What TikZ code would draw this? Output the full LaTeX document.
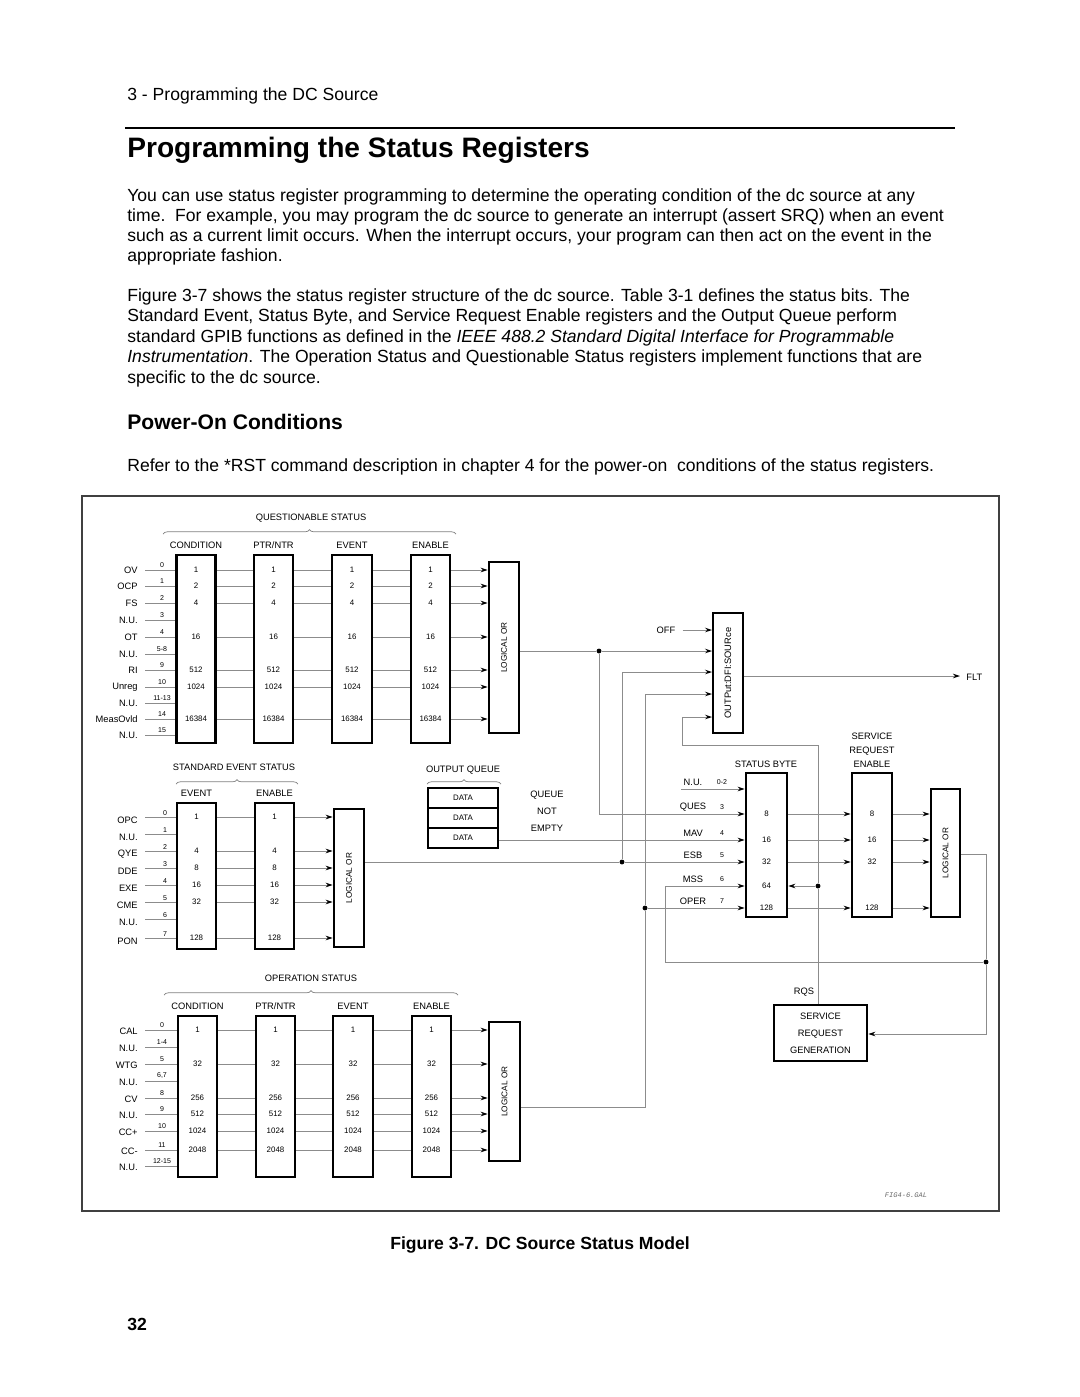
\documentclass[tikz,border=0pt]{standalone}
\usepackage{fontspec}
\setmainfont{Liberation Sans}
\newfontfamily\galfont{Liberation Mono}
\usetikzlibrary{arrows.meta,decorations.pathreplacing}

\begin{document}
\begin{tikzpicture}[x=0.2mm,y=-0.2mm]

\tikzset{
  regbox/.style 2 args={draw, line width=1.5pt, minimum width=#1*0.2mm,
    minimum height=#2*0.2mm, inner sep=0pt},
  wire/.style={draw=black!45, line width=0.55pt},
  arr/.style={wire, -{Stealth[length=4pt,width=2.6pt,inset=1.3pt,black]}},
  jdot/.style={circle, fill=black, inner sep=0pt, minimum size=2.8pt},
  lbl/.style={font=\fontsize{5.3}{6.3}\selectfont, inner sep=0pt},
  val/.style={font=\fontsize{4.5}{5}\selectfont, inner sep=0pt},
  bitno/.style={font=\fontsize{4}{5}\selectfont, inner sep=0pt, anchor=south},
  orlbl/.style={font=\fontsize{4.7}{5}\selectfont, rotate=90},
  bodytxt/.style={font=\fontsize{10}{12}\selectfont, anchor=base west, inner sep=0pt},
  grp/.style={draw=black!50, line width=0.4pt, decorate,
    decoration={brace, amplitude=2.5pt}},
}

\useasboundingbox (0,0) rectangle (1080,1397);

% Page text
\node[bodytxt] (hdr) at (127,100) {3 - Programming the DC Source};
\draw[line width=0.8pt] (125,128) -- (955,128);
\node[bodytxt, font=\fontsize{16}{19}\selectfont\bfseries] (ttl) at (127,157)
  {Programming the Status Registers};

\node[bodytxt] (pa1) at (127,201) {You can use status register programming to determine the operating condition of the dc source at any};
\node[bodytxt] (pa2) at (127,221) {time.\ \ For example, you may program the dc source to generate an interrupt (assert SRQ) when an event};
\node[bodytxt] (pa3) at (127,241) {such as a current limit occurs. When the interrupt occurs, your program can then act on the event in the};
\node[bodytxt] (pa4) at (127,261) {appropriate fashion.};

\node[bodytxt] (pb1) at (127,301) {Figure 3-7 shows the status register structure of the dc source. Table 3-1 defines the status bits. The};
\node[bodytxt] (pb2) at (127,321) {Standard Event, Status Byte, and Service Request Enable registers and the Output Queue perform};
\node[bodytxt] (pb3) at (127,342) {standard GPIB functions as defined in the \textit{IEEE 488.2 Standard Digital Interface for Programmable}};
\node[bodytxt] (pb4) at (127,362) {\textit{Instrumentation}. The Operation Status and Questionable Status registers implement functions that are};
\node[bodytxt] (pb5) at (127,383) {specific to the dc source.};

\node[bodytxt, font=\fontsize{12}{14}\selectfont\bfseries] (pwr) at (127,429) {Power-On Conditions};
\node[bodytxt] (pc1) at (127,471) {Refer to the *RST command description in chapter 4 for the power-on\ \ conditions of the status registers.};

% Figure frame
\draw[black!75, line width=1.1pt] (82,496) rectangle (999,1211);

% Questionable status
\node[lbl] (qtitle) at (311,518) {QUESTIONABLE STATUS};
\draw[grp] (163,534) -- (456,534);
\node[lbl] at (196,545) {CONDITION};
\node[lbl] at (273.5,545) {PTR/NTR};
\node[lbl] at (352,545) {EVENT};
\node[lbl] at (430.5,545) {ENABLE};
\node[regbox={39}{188}] (qcond) at (196,649) {};
\node[regbox={39}{188}] (qptr) at (273.5,649) {};
\node[regbox={40}{188}] (qevt) at (352,649) {};
\node[regbox={39}{188}] (qena) at (430.5,649) {};
\node[regbox={30}{171}] (qor) at (504,647.5) {};
\node[orlbl] at (qor) {LOGICAL OR};

\foreach \i/\nm/\bt/\yy in {0/OV/0/570, 1/OCP/1/586, 2/FS/2/603, 3/N.U./3/620,
    4/OT/4/637, 5/N.U./5-8/654, 6/RI/9/670, 7/Unreg/10/687, 8/N.U./11-13/703,
    9/MeasOvld/14/719, 10/N.U./15/735} {
  \coordinate (qr\i) at (145,\yy);
  \node[lbl, anchor=east] (qn\i) at (138,\yy) {\nm};
  \node[bitno] at (162,\yy-2) {\bt};
  \draw[wire] (qr\i) -- (qcond.west |- qr\i);
}
\foreach \i/\v in {0/1, 1/2, 2/4, 4/16, 6/512, 7/1024, 9/16384} {
  \foreach \b in {qcond,qptr,qevt,qena}
    \node[val] at (\b |- qr\i) {\v};
  \draw[wire] (qcond.east |- qr\i) -- (qptr.west |- qr\i)
              (qptr.east |- qr\i) -- (qevt.west |- qr\i)
              (qevt.east |- qr\i) -- (qena.west |- qr\i);
  \draw[arr] (qena.east |- qr\i) -- (qor.west |- qr\i);
}

% Standard event status
\node[lbl] (stitle) at (234,767) {STANDARD EVENT STATUS};
\draw[grp] (176,784) -- (298,784);
\node[lbl] at (196.5,793) {EVENT};
\node[lbl] at (274.5,793) {ENABLE};
\node[regbox={39}{146}] (sevt) at (196.5,876) {};
\node[regbox={39}{146}] (sena) at (274.5,876) {};
\node[regbox={30}{138}] (sor) at (349,878) {};
\node[orlbl] at (sor) {LOGICAL OR};

\foreach \i/\nm/\yy in {0/OPC/817, 1/N.U./834, 2/QYE/851, 3/DDE/868, 4/EXE/885,
    5/CME/902, 6/N.U./919, 7/PON/938} {
  \coordinate (sr\i) at (145,\yy);
  \node[lbl, anchor=east] (sn\i) at (138,\yy+3) {\nm};
  \node[bitno] at (165,\yy-1.5) {\i};
  \draw[wire] (sr\i) -- (sevt.west |- sr\i);
}
\foreach \i/\v in {0/1, 2/4, 3/8, 4/16, 5/32, 7/128} {
  \node[val] at (sevt |- sr\i) {\v};
  \node[val] at (sena |- sr\i) {\v};
  \draw[wire] (sevt.east |- sr\i) -- (sena.west |- sr\i);
  \draw[arr] (sena.east |- sr\i) -- (sor.west |- sr\i);
}

% Operation status
\node[lbl] (otitle) at (311,978) {OPERATION STATUS};
\draw[grp] (164,995) -- (458,995);
\node[lbl] at (197.5,1006) {CONDITION};
\node[lbl] at (275.5,1006) {PTR/NTR};
\node[lbl] at (353,1006) {EVENT};
\node[lbl] at (431.5,1006) {ENABLE};
\node[regbox={39}{161}] (ocond) at (197.5,1096.5) {};
\node[regbox={39}{161}] (optr) at (275.5,1096.5) {};
\node[regbox={40}{161}] (oevt) at (353,1096.5) {};
\node[regbox={39}{161}] (oena) at (431.5,1096.5) {};
\node[regbox={31}{139}] (oor) at (504.5,1091.5) {};
\node[orlbl] at (oor) {LOGICAL OR};

\foreach \i/\nm/\bt/\yy in {0/CAL/0/1030, 1/N.U./1-4/1047, 2/WTG/5/1064,
    3/N.U./{6,7}/1081, 4/CV/8/1098, 5/N.U./9/1114, 6/CC+/10/1131, 7/CC-/11/1150,
    8/N.U./12-15/1166} {
  \coordinate (or\i) at (145,\yy);
  \node[lbl, anchor=east] (on\i) at (138,\yy+1) {\nm};
  \node[bitno] at (162,\yy-2) {\bt};
  \draw[wire] (or\i) -- (ocond.west |- or\i);
}
\foreach \i/\v in {0/1, 2/32, 4/256, 5/512, 6/1024, 7/2048} {
  \foreach \b in {ocond,optr,oevt,oena}
    \node[val] at (\b |- or\i) {\v};
  \draw[wire] (ocond.east |- or\i) -- (optr.west |- or\i)
              (optr.east |- or\i) -- (oevt.west |- or\i)
              (oevt.east |- or\i) -- (oena.west |- or\i);
  \draw[arr] (oena.east |- or\i) -- (oor.west |- or\i);
}

% Output queue
\node[lbl] (qqtitle) at (463,770) {OUTPUT QUEUE};
\draw[grp] (427,784) -- (501,784);
\node[regbox={70}{20}, val] (dq1) at (463,798) {DATA};
\node[regbox={70}{20}, val] (dq2) at (463,818) {DATA};
\node[regbox={70}{20}, val] (dq3) at (463,838) {DATA};
\node[lbl, align=center, font=\fontsize{5.3}{9.6}\selectfont] (qne) at (547,811)
  {QUEUE\\NOT\\EMPTY};

% Fault output
\node[draw, line width=1.1pt, minimum width=30*0.2mm, minimum height=120*0.2mm,
  inner sep=0pt] (dfi) at (728,673) {};
\node[lbl, rotate=90] at (dfi) {OUTPut:DFI:SOURce};
\node[lbl] (off) at (666,630) {OFF};
\draw[arr] ([xshift=4pt]off.east) -- (dfi.west |- off);
\coordinate (flt) at (960,676);
\draw[arr] (dfi.east |- flt) -- (flt);
\node[lbl, anchor=west] (fltlbl) at (966,677) {FLT};

% Status byte, SRE and service request
\node[lbl] (sbtitle) at (766,764) {STATUS BYTE};
\node[lbl, align=center, font=\fontsize{5.3}{8}\selectfont] (sretitle) at (872,750)
  {SERVICE\\REQUEST\\ENABLE};
\node[regbox={41}{144}] (sb) at (766.5,845) {};
\node[regbox={40}{144}] (sre) at (872,845) {};
\node[regbox={29}{128}] (sbor) at (945.5,853) {};
\node[orlbl] at (sbor) {LOGICAL OR};
\node[regbox={93}{56}, lbl, align=center, font=\fontsize{5.3}{9.6}\selectfont]
  (srg) at (820.5,1033) {SERVICE\\REQUEST\\GENERATION};
\node[lbl] (rqs) at (804,992) {RQS};

\foreach \nm/\bt/\yy/\k in {N.U./0-2/789/nu, QUES/3/814/ques, MAV/4/840/mav,
    ESB/5/862/esb, MSS/6/886/mss, OPER/7/908/oper} {
  \coordinate (\k) at (0,\yy);
  \node[lbl] at (693,\yy-7) {\nm};
  \node[bitno, anchor=center] at (722,\yy-7) {\bt};
}
\foreach \k/\v in {ques/8, mav/16, esb/32, mss/64, oper/128}
  \node[val] at (sb |- \k) {\v};
\foreach \k/\v in {ques/8, mav/16, esb/32, oper/128} {
  \node[val] at (sre |- \k) {\v};
  \draw[arr] (sb.east |- \k) -- (sre.west |- \k);
  \draw[arr] (sre.east |- \k) -- (sbor.west |- \k);
}

% Summary wiring
\coordinate (nuc) at (681,789);
\draw[arr] (nuc) -- (sb.west |- nu);
\draw[arr] (dq3.east |- mav) -- (sb.west |- mav);

\node[jdot] (jq) at (599,651) {};
\draw[wire] (qor.east |- jq) -- (jq);
\draw[arr] (jq) -- (dfi.west |- jq);
\draw[arr] (jq) |- (sb.west |- ques);

\coordinate (dfic) at (0,672);
\node[jdot] (je) at (622,862) {};
\draw[wire] (sor.east |- je) -- (je);
\draw[arr] (je) -- (sb.west |- esb);
\draw[arr] (je) |- (dfi.west |- dfic);

\coordinate (dfid) at (0,694);
\coordinate (opout) at (645,1107);
\node[jdot] (jo) at (645,908) {};
\draw[wire] (oor.east |- opout) -- (opout) -- (jo);
\draw[arr] (jo) |- (dfi.west |- dfid);
\draw[arr] (jo) -- (sb.west |- oper);

\coordinate (ssum) at (986,854);
\coordinate (mssc) at (665,962);
\coordinate (srq) at (0,1034);
\node[jdot] (js) at (986,962) {};
\draw[wire] (sbor.east |- ssum) -- (ssum) -- (js);
\draw[arr] (js) -- (mssc) |- (sb.west |- mss);
\draw[arr] (js) |- (srg.east |- srq);

\coordinate (loopc) at (818,745);
\coordinate (dfie) at (682,717);
\node[jdot] (jr) at (818,886) {};
\draw[arr] (jr) -- (sb.east |- jr);
\draw[wire] (jr) -- (jr |- srg.north);
\draw[arr] (jr) -- (loopc) -| (dfie) -- (dfi.west |- dfie);

\node[font=\galfont\itshape\fontsize{4}{5}\selectfont, black!60] (gal) at (906,1195) {FIG4-6.GAL};

% Caption and page number
\node[bodytxt, anchor=base, font=\fontsize{10}{12}\selectfont\bfseries] (cap) at (540,1249)
  {Figure 3-7. DC Source Status Model};
\node[bodytxt, font=\fontsize{10}{12}\selectfont\bfseries] (pgno) at (127,1330) {32};

\end{tikzpicture}
\end{document}
